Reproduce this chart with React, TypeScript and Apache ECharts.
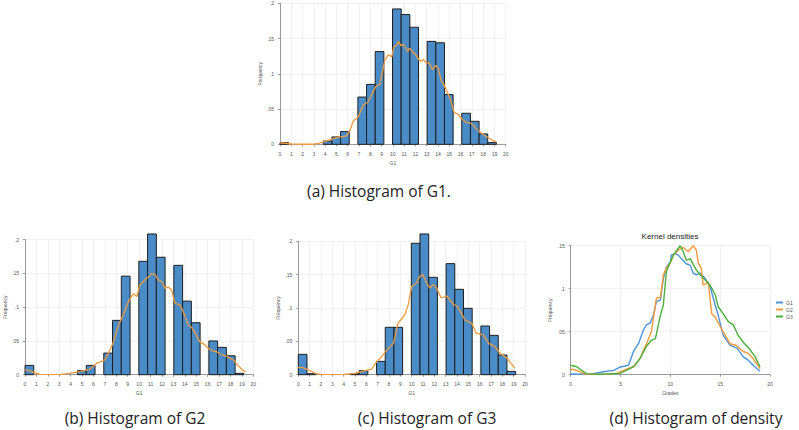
import React, { useEffect, useRef } from "react";
import * as echarts from "echarts";

// ---------- DATA ----------
const BIN_W = 0.767; // histogram bin width (25 bins over 0..19.17)

const G1_FREQ = [0.0024, 0, 0, 0, 0, 0.0047, 0.0104, 0.018, 0, 0.067, 0.085, 0.1315, 0, 0.192, 0.184, 0.166, 0, 0.146, 0.144, 0.0705, 0, 0.044, 0.0326, 0.0147, 0.0024];
const G2_FREQ = [0.0138, 0, 0, 0, 0, 0, 0.006, 0.0138, 0, 0.032, 0.0805, 0.146, 0, 0.168, 0.2085, 0.174, 0, 0.162, 0.109, 0.077, 0, 0.05, 0.0405, 0.028, 0.002];
const G3_FREQ = [0.0305, 0.0015, 0, 0, 0, 0, 0.0015, 0.006, 0, 0.02, 0.071, 0.071, 0, 0.197, 0.211, 0.146, 0, 0.1665, 0.128, 0.0995, 0, 0.073, 0.059, 0.0295, 0.005];

const G1_KDE = [[0, 0.002], [0.5, 0.0015], [1, 0.0005], [1.5, 0.0002], [2, 0.0001], [2.5, 0.0001], [3, 0.0003], [3.5, 0.0015], [4, 0.004], [4.5, 0.0065], [5, 0.0095], [5.5, 0.011], [5.9, 0.012], [6.2, 0.02], [6.5, 0.033], [6.9, 0.038], [7.4, 0.056], [7.8, 0.06], [8.1, 0.07], [8.5, 0.082], [8.85, 0.085], [9.1, 0.105], [9.3, 0.12], [9.6, 0.127], [9.9, 0.124], [10.1, 0.139], [10.3, 0.14], [10.5, 0.146], [10.7, 0.14], [10.9, 0.142], [11.1, 0.137], [11.3, 0.132], [11.5, 0.136], [11.8, 0.13], [12.0, 0.128], [12.3, 0.12], [12.5, 0.118], [12.7, 0.12], [13.0, 0.115], [13.2, 0.116], [13.5, 0.106], [13.8, 0.112], [14.0, 0.108], [14.3, 0.09], [14.5, 0.085], [14.8, 0.075], [15.1, 0.064], [15.4, 0.046], [15.8, 0.042], [16.2, 0.035], [16.5, 0.031], [16.9, 0.03], [17.3, 0.024], [17.6, 0.019], [18, 0.014], [18.4, 0.01], [18.8, 0.006], [19.2, 0.003]];
const G2_KDE = [[0, 0.007], [0.4, 0.006], [0.8, 0.003], [1.3, 0.0005], [2, 0], [3, 0], [3.9, 0.002], [4.8, 0.0045], [5.7, 0.0084], [6.3, 0.017], [6.6, 0.019], [7.0, 0.022], [7.45, 0.037], [7.7, 0.046], [8.2, 0.074], [8.6, 0.088], [9.05, 0.108], [9.5, 0.12], [9.8, 0.116], [10.07, 0.133], [10.36, 0.138], [10.66, 0.143], [10.9, 0.146], [11.1, 0.15], [11.4, 0.148], [11.7, 0.14], [11.97, 0.138], [12.26, 0.128], [12.55, 0.13], [12.85, 0.125], [13.14, 0.106], [13.58, 0.103], [13.87, 0.093], [14.3, 0.074], [14.6, 0.07], [14.9, 0.062], [15.3, 0.049], [15.7, 0.045], [16.06, 0.039], [16.5, 0.035], [16.8, 0.034], [17.2, 0.03], [17.66, 0.027], [17.9, 0.025], [18.25, 0.022], [18.7, 0.013], [19.07, 0.007], [19.3, 0.004]];
const G3_KDE = [[0, 0.011], [0.4, 0.0105], [0.9, 0.007], [1.5, 0.002], [2, 0.0005], [3, 0], [4, 0.0005], [5, 0.002], [5.9, 0.006], [6.5, 0.0085], [6.8, 0.017], [7.35, 0.027], [7.8, 0.037], [8.4, 0.047], [8.8, 0.077], [9.4, 0.09], [9.7, 0.105], [10, 0.132], [10.4, 0.137], [10.7, 0.147], [11, 0.15], [11.4, 0.135], [11.6, 0.13], [11.9, 0.135], [12.2, 0.13], [12.6, 0.115], [13.1, 0.118], [13.7, 0.105], [14, 0.103], [14.4, 0.092], [14.7, 0.082], [15.3, 0.077], [15.7, 0.062], [16.3, 0.06], [16.8, 0.047], [17.35, 0.042], [17.8, 0.032], [18.4, 0.025], [19.1, 0.01]];

const D_G1 = [[0, 0.0008], [1, 0.0005], [2, 0.0005], [3.3, 0.0035], [4.3, 0.005], [5, 0.009], [5.8, 0.011], [6.3, 0.027], [6.8, 0.036], [7.3, 0.052], [7.6, 0.058], [7.96, 0.06], [8.3, 0.069], [8.6, 0.085], [9, 0.087], [9.3, 0.112], [9.6, 0.125], [10, 0.131], [10.1, 0.139], [10.5, 0.141], [10.8, 0.139], [11.1, 0.135], [11.6, 0.129], [12, 0.127], [12.3, 0.118], [12.6, 0.116], [13, 0.118], [13.5, 0.112], [14, 0.102], [14.5, 0.081], [14.8, 0.069], [15.3, 0.046], [16, 0.034], [16.7, 0.031], [17.3, 0.021], [17.8, 0.017], [18.3, 0.011], [19, 0.004]];
const D_G2 = [[0, 0.0066], [0.6, 0.005], [1.4, 0.0008], [2.5, 0.0003], [3.5, 0.0005], [4.6, 0.0015], [5.6, 0.0066], [6.3, 0.009], [6.96, 0.019], [7.6, 0.036], [8.1, 0.05], [8.6, 0.089], [9, 0.09], [9.3, 0.116], [9.6, 0.124], [10, 0.13], [10.3, 0.139], [10.8, 0.145], [11.3, 0.148], [11.8, 0.143], [12.3, 0.15], [12.6, 0.145], [12.8, 0.13], [13.1, 0.124], [13.3, 0.104], [13.8, 0.108], [14.15, 0.071], [14.5, 0.067], [15, 0.056], [15.5, 0.046], [16, 0.036], [16.65, 0.034], [17.3, 0.027], [17.8, 0.025], [18.3, 0.019], [19, 0.007]];
const D_G3 = [[0, 0.011], [0.6, 0.0093], [1.6, 0.001], [3, 0.0005], [4.95, 0.0015], [5.95, 0.007], [6.45, 0.011], [6.96, 0.019], [7.6, 0.033], [8.1, 0.04], [8.5, 0.042], [9, 0.069], [9.3, 0.081], [9.6, 0.12], [10, 0.131], [10.3, 0.139], [10.8, 0.147], [11, 0.15], [11.3, 0.143], [11.6, 0.133], [12, 0.135], [12.3, 0.128], [12.6, 0.122], [13, 0.116], [13.5, 0.11], [14, 0.104], [14.5, 0.093], [14.8, 0.079], [15.3, 0.071], [15.8, 0.062], [16.3, 0.058], [16.8, 0.046], [17.3, 0.038], [18, 0.029], [18.5, 0.021], [19, 0.009]];

const X_NAMES = ["G1", "G1", "G1", "Grades"];
const Y_NAME = "Frequency";
const LEGEND_NAMES = ["G1", "G2", "G3"];
const CAPTIONS = ["(a) Histogram of G1.", "(b) Histogram of G2", "(c) Histogram of G3", "(d) Histogram of density"];
const D_TITLE = "Kernel densities";

// ---------- STYLE ----------
const BAR_FILL = "#4a8cc8";
const BAR_STROKE = "#1e1e1e";
const ORANGE = "#f39a3d";
const BLUE = "#4c93d6";
const GREEN = "#4cae3c";
const AXIS = "#9a9a9a";
const LABEL = "#555";
const FONT = "Liberation Sans";

const GRIDS = [
  { left: 280, top: 3.3, width: 225.7, height: 141 },
  { left: 25, top: 239.7, width: 228.3, height: 135 },
  { left: 298.3, top: 241.3, width: 226.7, height: 133.4 },
  { left: 570.7, top: 245.7, width: 199.3, height: 129 },
];

const fmtY = (v: number) =>
  v === 0 ? "0" : v.toFixed(2).replace(/0+$/, "").replace(/^0/, "");

function histSeries(freq: number[], idx: number) {
  return {
    type: "custom",
    xAxisIndex: idx,
    yAxisIndex: idx,
    silent: true,
    data: freq.map((v, k) => [k, v]).filter((d) => d[1] > 0),
    renderItem: (params: any, api: any) => {
      const k = api.value(0);
      const h = api.value(1);
      const p0 = api.coord([k * BIN_W, h]);
      const p1 = api.coord([(k + 1) * BIN_W, 0]);
      return {
        type: "rect",
        shape: { x: p0[0], y: p0[1], width: p1[0] - p0[0], height: p1[1] - p0[1] },
        style: { fill: BAR_FILL, stroke: BAR_STROKE, lineWidth: 1 },
      };
    },
  };
}

function lineSeries(name: string, data: number[][], idx: number, color: string, width: number) {
  return {
    type: "line",
    name,
    xAxisIndex: idx,
    yAxisIndex: idx,
    data,
    showSymbol: false,
    symbol: "none",
    smooth: false,
    silent: true,
    lineStyle: { color, width },
    itemStyle: { color },
  };
}

export default function App() {
  const ref = useRef<HTMLDivElement>(null);

  useEffect(() => {
    if (!ref.current) return;
    const chart = echarts.init(ref.current, undefined, { renderer: "svg" });

    const xAxes = GRIDS.map((_, i) => ({
      type: "value",
      gridIndex: i,
      min: 0,
      max: 20,
      interval: i === 3 ? 5 : 1,
      offset: 4,
      name: X_NAMES[i],
      nameLocation: "middle",
      nameGap: 12,
      nameTextStyle: { fontSize: 5, color: LABEL, fontFamily: FONT },
      axisLine: { show: true, lineStyle: { color: AXIS, width: 1 } },
      axisTick: { show: true, length: 2, lineStyle: { color: AXIS } },
      axisLabel: { fontSize: 5, color: LABEL, margin: 3, fontFamily: FONT },
      splitLine: { show: true, lineStyle: { color: "#f1f1f1", width: 1 } },
    }));

    const yAxes = GRIDS.map((_, i) => ({
      type: "value",
      gridIndex: i,
      min: 0,
      max: i === 3 ? 0.15 : 0.2,
      interval: 0.05,
      offset: 3,
      name: Y_NAME,
      nameLocation: "middle",
      nameRotate: 90,
      nameGap: 15,
      nameTextStyle: { fontSize: 5, color: LABEL, fontFamily: FONT },
      axisLine: { show: true, lineStyle: { color: AXIS, width: 1 } },
      axisTick: { show: true, length: 2, lineStyle: { color: AXIS } },
      axisLabel: { fontSize: 5, color: LABEL, margin: 3, fontFamily: FONT, formatter: fmtY },
      splitLine: { show: true, lineStyle: { color: "#f1f1f1", width: 1 } },
    }));

    const captionPos = [
      { x: 379, y: 191, size: 15.5 },
      { x: 135, y: 418, size: 15.5 },
      { x: 427, y: 418, size: 15.5 },
      { x: 696, y: 418, size: 15.5 },
    ];

    chart.setOption({
      animation: false,
      backgroundColor: "#ffffff",
      grid: GRIDS.map((g) => ({ ...g, containLabel: false })),
      xAxis: xAxes,
      yAxis: yAxes,
      legend: {
        data: LEGEND_NAMES,
        orient: "vertical",
        left: 776,
        top: 300,
        padding: 0,
        itemWidth: 7,
        itemHeight: 2,
        itemGap: 2,
        icon: "rect",
        textStyle: { fontSize: 5, color: LABEL, fontFamily: FONT, padding: [0, 0, 0, -2] },
        selectedMode: false,
      },
      series: [
        histSeries(G1_FREQ, 0),
        lineSeries("G1 kde", G1_KDE, 0, ORANGE, 1.3),
        histSeries(G2_FREQ, 1),
        lineSeries("G2 kde", G2_KDE, 1, ORANGE, 1.3),
        histSeries(G3_FREQ, 2),
        lineSeries("G3 kde", G3_KDE, 2, ORANGE, 1.3),
        lineSeries(LEGEND_NAMES[0], D_G1, 3, BLUE, 1.4),
        lineSeries(LEGEND_NAMES[1], D_G2, 3, ORANGE, 1.4),
        lineSeries(LEGEND_NAMES[2], D_G3, 3, GREEN, 1.4),
      ],
      graphic: [
        {
          type: "text",
          x: 670,
          y: 236,
          style: {
            text: D_TITLE,
            fontSize: 8,
            fill: "#222",
            fontFamily: FONT,
            textAlign: "center",
            textVerticalAlign: "middle",
          },
        },
        ...CAPTIONS.map((t, i) => ({
          type: "text",
          x: captionPos[i].x,
          y: captionPos[i].y,
          style: {
            text: t,
            fontSize: captionPos[i].size,
            fill: "#222",
            fontFamily: "Open Sans",
            textAlign: "center",
            textVerticalAlign: "middle",
          },
        })),
      ],
    });

    return () => chart.dispose();
  }, []);

  return (
    <div
      ref={ref}
      style={{ position: "fixed", left: 0, top: 0, width: 799, height: 430, background: "#fff" }}
    />
  );
}
